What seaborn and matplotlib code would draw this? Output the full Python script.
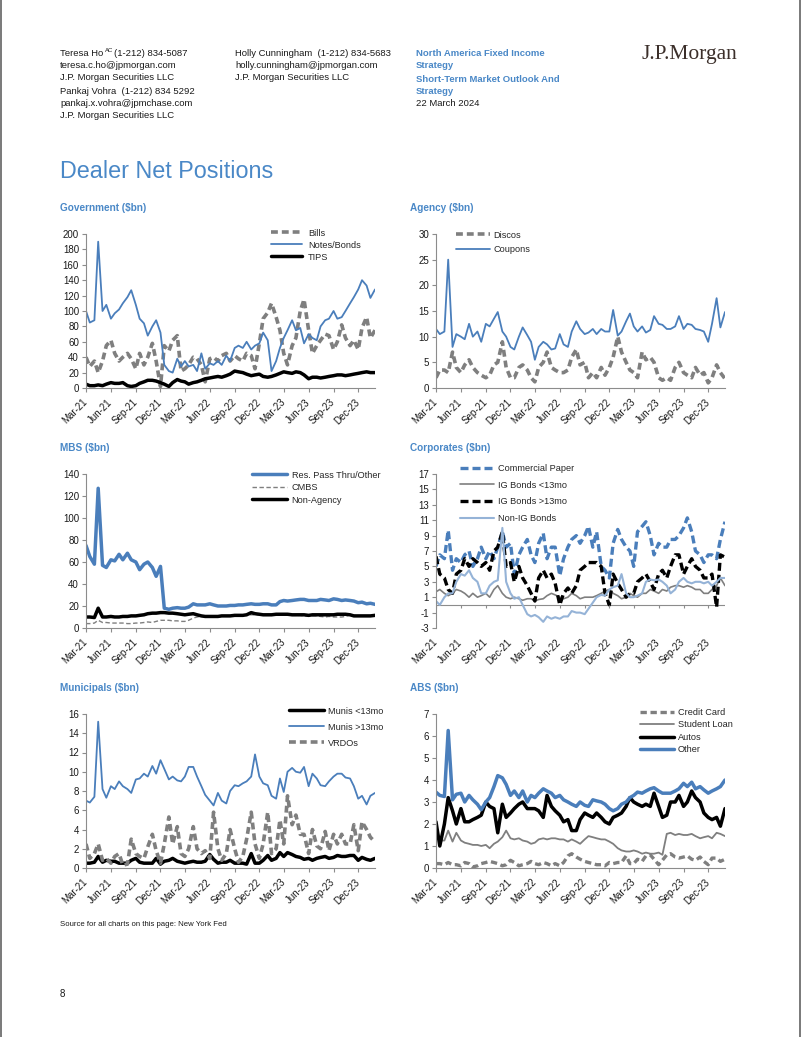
import numpy as np
import pandas as pd
import matplotlib
matplotlib.use("Agg")
import matplotlib.pyplot as plt
from matplotlib.lines import Line2D
import seaborn as sns

# ---------------- data (semi-monthly readings, Mar-21 .. Feb-24) ----------------
dates = [pd.Timestamp(y, m, d) for y in range(2021, 2025) for m in range(1, 13) for d in (1, 15)
         if pd.Timestamp(2021, 3, 1) <= pd.Timestamp(y, m, d) <= pd.Timestamp(2024, 2, 1)]

tick_labels = ["Mar-21", "Jun-21", "Sep-21", "Dec-21", "Mar-22", "Jun-22", "Sep-22",
               "Dec-22", "Mar-23", "Jun-23", "Sep-23", "Dec-23"]
tick_dates = [pd.Timestamp(2021, 3, 1) + pd.DateOffset(months=3 * k) for k in range(len(tick_labels))]

gov_bills = [40, 28, 35, 20, 35, 55, 62, 45, 35, 40, 45, 38, 25, 45, 30, 40, 58, 35, 2, 55,
             48, 62, 68, 22, 25, 30, 40, 38, 30, 8, 38, 40, 35, 42, 45, 35, 42, 38, 35, 45,
             42, 25, 58, 90, 98, 110, 92, 75, 45, 30, 55, 65, 100, 115, 75, 45, 55, 62, 70, 68,
             50, 60, 82, 65, 55, 62, 50, 78, 92, 65, 75]
gov_notes = [100, 85, 88, 190, 100, 108, 90, 97, 102, 110, 118, 127, 108, 90, 84, 68, 80, 88, 72, 30,
             22, 20, 38, 28, 35, 28, 30, 22, 45, 25, 32, 30, 35, 30, 42, 35, 52, 55, 52, 60,
             50, 55, 58, 72, 62, 22, 35, 52, 65, 75, 88, 75, 78, 58, 70, 65, 62, 80, 88, 90,
             100, 90, 92, 100, 110, 118, 128, 140, 133, 117, 128]
gov_tips = [5, 3, 3, 4, 3, 5, 7, 6, 6, 7, 3, 2, 3, 6, 8, 10, 10, 9, 7, 5,
            2, 7, 11, 9, 8, 5, 7, 8, 10, 12, 13, 14, 15, 14, 16, 18, 22, 21, 20, 18,
            16, 17, 18, 15, 14, 15, 17, 19, 21, 20, 19, 21, 20, 17, 12, 14, 14, 13, 14, 15,
            16, 17, 17, 16, 17, 18, 19, 20, 21, 20, 20]

ag_discos = [2, 3.5, 3.5, 3, 7, 4, 3, 4.5, 5.5, 4, 3, 2.5, 2, 2.5, 4.5, 5, 9, 4, 2, 2,
             4, 4.5, 3.5, 2, 1.2, 4, 5, 7, 4, 3.5, 3, 3, 3.5, 6, 7.5, 4.5, 5, 2, 3, 2,
             4, 2.5, 4, 6, 10, 7, 5, 3.5, 3, 2, 7, 5.5, 6, 5, 2, 1.5, 2, 1.5, 4, 5,
             3, 2.5, 2, 4, 2.5, 3, 1, 2, 4.5, 3, 1.8]
ag_coupons = [11.5, 10.5, 11, 25, 8, 10.5, 10, 9.5, 12.5, 10, 11, 9, 12.5, 12, 13.5, 14.8, 11, 10, 8, 7.5,
              10, 11.8, 10.3, 9, 5.5, 8, 9, 8.5, 7.5, 7.7, 10.5, 8.5, 8, 11, 13, 11.5, 10.5, 10.8, 11.5, 10.5,
              11.5, 11, 11, 15.2, 10.2, 11, 13, 14.5, 12, 11, 12, 10.8, 11.3, 14, 12.5, 12.3, 11.5, 11.5, 12, 14,
              11.5, 12.5, 12.3, 11.5, 11.3, 11, 9, 12.5, 17.5, 11.8, 14.8]

mbs_res = [75, 65, 58, 127, 57, 55, 62, 61, 67, 62, 68, 62, 60, 53, 58, 60, 55, 47, 56, 18,
           17, 18, 18.5, 18, 18, 19, 22, 21, 21, 21, 22, 21, 20, 20, 20, 20.5, 20.5, 21, 21, 21.5,
           22, 21.5, 21.5, 22, 22, 21, 21, 24, 25, 24.5, 25, 25.5, 26, 26, 25, 25, 25, 26, 25.5, 25,
           26.5, 26, 25, 25.5, 25, 24.5, 23, 23.5, 22, 22.5, 21.5]
mbs_cmbs = [4, 4, 4.5, 7, 5, 5, 4.5, 4.5, 4.5, 4.5, 4, 4, 4.5, 4.5, 5, 5.5, 5, 6, 7, 7,
            7, 6.5, 6.5, 6, 6, 7, 9, 10, 10.5, 10.5, 10.5, 11, 11, 11, 11, 11, 11.5, 11.5, 11.5, 12,
            12, 12, 12, 12, 12, 12, 12, 12, 12, 12, 11.5, 11.5, 11.5, 11, 11, 11, 11, 10.5, 10, 10.5,
            10, 10, 10, 10.5, 12, 11.5, 11, 11, 11, 11, 11]
mbs_nonag = [10, 10, 9.5, 18, 10, 10, 10.5, 10, 10, 10.5, 10.5, 11, 11, 11.5, 12, 13, 13.5, 13.5, 14, 14,
             13.5, 13.5, 13, 12.5, 12, 12.5, 13, 12, 11, 10.5, 10.5, 10.5, 10.5, 11, 11, 11, 11.5, 11.5, 11.5, 12,
             14, 13, 12.5, 12, 12, 12, 12.5, 12.5, 12.5, 12.5, 12, 12, 12, 12, 11.5, 12, 12, 12, 12, 12,
             12, 12.5, 12.5, 12.5, 12, 11, 11, 11, 11, 11, 11.5]

corp_cp = [5, 6.5, 6, 9.7, 4.5, 6, 5.5, 6.5, 7, 5, 6, 7.5, 6, 7, 6, 7.5, 9.5, 7.5, 8, 4,
           6.5, 7.5, 8.5, 6.5, 5.5, 8, 9.3, 6, 7.5, 7.5, 3.8, 6, 7.5, 8.5, 9, 8, 9, 10.2, 7.5, 9.5,
           5, 4.5, 3.5, 8, 9.8, 8.5, 7.5, 7, 5, 9.5, 10.2, 10.8, 9, 6.5, 8, 7.5, 7.5, 8.5, 8.5, 9,
           10, 11.3, 9.5, 7, 6.5, 5.5, 6.5, 6.5, 6, 8.5, 10.8]
corp_ig_short = [1.7, 2, 1.5, 1.2, 1.5, 2, 1.8, 1.5, 1, 1.5, 1, 1.2, 1.5, 1, 2, 2.5, 1.5, 1, 0.8, 1,
                 0.8, 0.6, 0.8, 0.8, 0.5, 0.7, 0.8, 1.2, 1.5, 1.3, 1, 0.8, 1, 1.5, 1.2, 0.8, 1, 1, 1, 1.2,
                 1.5, 1.8, 2, 1.5, 1.2, 0.8, 1, 1.5, 1.2, 1, 1.5, 1.5, 2, 1.8, 1.5, 2, 1.8, 2.3, 2.5, 2.5,
                 2.3, 2.5, 2.3, 2, 2, 1.5, 1.5, 2, 2.5, 3.5, 2.5]
corp_ig_long = [6.3, 4, 3.5, 2, 1.5, 4, 4.5, 6, 5, 6, 5.5, 5, 5.5, 4.5, 7, 7.5, 9.5, 5, 5.5, 3,
                5, 3.5, 2.5, 1.5, 0.5, 3.5, 4.5, 3.5, 4, 2.8, 0, 1.5, 2.2, 1.5, 2.5, 4.5, 5, 5.5, 5.5, 5.5,
                5, 1.5, 0, 4, 2.8, 2, 1, 1.5, 1.5, 3, 3.5, 4, 3, 2, 4, 4.5, 3.5, 5, 6.5, 6.5,
                4, 5, 6, 5, 4.5, 3.5, 3.5, 4, -0.3, 6.5, 6.2]
corp_nonig = [0.5, 0, 1, 1.5, 1.5, 3, 4, 3.8, 4.5, 3.5, 3, 1.5, 1.5, 2.5, 3, 3.2, 10, 3, 1.5, 0.8,
              1, 0, -1.2, -1.5, -1.3, -1.6, -2.2, -1.5, -1.8, -1.6, -1.8, -1.5, -1.5, -0.8, -1, -1, -1.2, -0.5, 0.3, 1,
              1.3, 1.2, 2, 2.3, 2.5, 4, 1.5, 1, 1, 1.2, 1.5, 3, 3.3, 3.2, 3.3, 3, 2.5, 1.5, 2, 3,
              3.5, 3, 2.8, 3, 3, 2.8, 3, 2.5, 3, 3.5, 3.5]

muni_short = [0.5, 0.5, 0.6, 1.2, 0.6, 0.8, 0.7, 0.7, 0.5, 0.5, 0.5, 0.8, 1, 0.6, 0.5, 0.5, 0.5, 1, 0.4, 0.7,
              0.8, 1, 0.7, 0.6, 0.5, 0.6, 0.7, 0.6, 0.6, 0.7, 1.4, 0.9, 0.5, 0.6, 0.6, 0.8, 0.5, 0.5, 0.5, 0.4,
              1.5, 0.5, 0.5, 0.8, 1.3, 0.8, 1, 1.6, 1.2, 1.6, 1.4, 1.2, 1.1, 0.9, 1, 0.8, 1, 1.1, 1.2, 1,
              1.1, 1.3, 1.2, 1.2, 1.3, 1.3, 0.8, 1.1, 0.9, 0.8, 1]
muni_long = [7, 6.8, 7.4, 15.2, 8.2, 7.3, 8.5, 8.2, 9, 8.5, 8.2, 7.8, 9.2, 9.3, 9.8, 9.5, 10.6, 9.8, 11.2, 10.3,
             9.2, 9.5, 9.1, 9, 9.5, 10.5, 10.5, 9.5, 8.5, 7.6, 7, 6.5, 7.8, 7, 6.7, 8, 8.6, 8.5, 8.8, 9,
             9.5, 11.8, 9.5, 8.8, 8.6, 7.5, 7.2, 9.3, 7.9, 10, 10.4, 10, 9.9, 10.5, 8.5, 9.8, 9.3, 8.6, 8.5, 9,
             9.5, 9.8, 9.8, 9.4, 9.3, 8.5, 7.2, 7.5, 6.6, 7.5, 7.8]
muni_vrdo = [2.5, 1, 1.5, 2.5, 0.8, 1, 0.5, 1.2, 1.5, 0.3, 0.4, 3, 1.5, 1.2, 1, 2.2, 3.5, 1.8, 0.5, 2.5,
             5.3, 2.5, 4.3, 1.5, 1.2, 2, 4.3, 2, 1.5, 1.8, 1, 5.8, 2, 0.8, 1.5, 4, 2, 0.6, 1.2, 3,
             5.8, 2.5, 1, 2.5, 5.8, 1.5, 2, 5, 2.5, 7.5, 4.5, 5.5, 3.5, 3.5, 1.5, 4, 2.3, 2, 3.8, 1.8,
             3.5, 2.5, 3.5, 2.5, 2.5, 4.5, 1.8, 4.8, 4, 3.2, 2.7]

abs_cc = [0.2, 0.2, 0.15, 0.25, 0.15, 0.15, 0.1, 0.25, 0.2, 0.05, 0.1, 0.2, 0.25, 0.3, 0.25, 0.2, 0.1, 0.15, 0.35, 0.25,
          0.1, 0.15, 0.2, 0.3, 0.2, 0.15, 0.25, 0.2, 0.1, 0.2, 0.1, 0.25, 0.55, 0.65, 0.5, 0.4, 0.3, 0.25, 0.2, 0.15,
          0.15, 0.1, 0.25, 0.2, 0.25, 0.25, 0.55, 0.2, 0.2, 0.4, 0.3, 0.55, 0.6, 0.4, 0.15, 0.35, 0.6, 0.65, 0.5, 0.45,
          0.5, 0.55, 0.4, 0.35, 0.5, 0.3, 0.15, 0.45, 0.45, 0.3, 0.4]
abs_sl = [1.9, 1.25, 1.25, 1.7, 1.2, 1.6, 1.25, 1.15, 1.1, 1.05, 1.05, 1, 1.05, 0.9, 1.1, 1.2, 1.4, 1.7, 1.35, 1.3,
          1.35, 1.25, 1.2, 1.1, 1.15, 1.3, 1.35, 1.3, 1.35, 1.35, 1.3, 1.3, 1.2, 1.3, 1.2, 1.1, 1.3, 1.45, 1.4, 1.35,
          1.3, 1.3, 1.2, 1.1, 0.9, 0.8, 0.75, 0.75, 0.8, 0.75, 0.65, 0.7, 0.65, 0.65, 0.7, 0.6, 1.55, 1.6, 1.5, 1.55,
          1.5, 1.5, 1.55, 1.45, 1.35, 1.4, 1.45, 1.35, 1.6, 1.55, 1.45]
abs_autos = [2.1, 1, 2, 3.2, 2.6, 2, 2.7, 2.1, 2.1, 2.2, 2.3, 2.4, 3, 2.8, 2.7, 1.6, 2.9, 2.3, 2.5, 2.7,
             2.9, 3, 2.7, 2.7, 2.7, 2.6, 2.3, 3.3, 2.8, 2.6, 2.4, 2.1, 2.2, 1.7, 1.7, 2.2, 2.5, 2.4, 2.3, 2.5,
             2.3, 2.1, 2, 2.3, 2.4, 2.5, 2.8, 3.2, 3, 2.9, 2.8, 2.9, 2.8, 3.4, 2.8, 2.3, 2.4, 3, 3, 3.3,
             2.8, 3, 3.5, 3.2, 3, 2.5, 2.3, 2.2, 2.3, 1.9, 2.7]
abs_other = [3.45, 3.3, 3.25, 6.25, 3.1, 3.35, 3.4, 3, 3.3, 3.1, 2.9, 2.65, 3, 3.2, 3.7, 4.2, 4.1, 3.8, 3.3, 3.5,
             3.2, 3.5, 3, 3.3, 3.2, 3.4, 3.6, 3.5, 3.4, 3.2, 3.3, 3.1, 3, 2.9, 2.8, 3, 2.85, 2.8, 3.1, 3.05,
             3, 2.9, 2.7, 2.6, 2.7, 2.9, 3, 3.2, 3.3, 3.45, 3.4, 3.5, 3.6, 3.65, 3.5, 3.4, 3.4, 3.4, 3.5, 3.6,
             3.85, 3.7, 3.9, 3.6, 3.7, 3.55, 3.4, 3.5, 3.6, 3.7, 4]

# ---------------- styling ----------------
BLUE = "#4A7EBB"
TITLE_BLUE = "#4A88C7"
LIGHT_BLUE = "#95B3D7"
GRAY = "#7F7F7F"
AX = "#8C8C8C"
TXT = "#1A1A1A"

sns.set_theme(style="white")
plt.rcParams["font.family"] = ["Liberation Sans", "DejaVu Sans"]

W, H = 802, 1037
fig = plt.figure(figsize=(W / 100, H / 100), dpi=100)
fig.patch.set_facecolor("white")


def px_axes(l, t, r, b):
    return fig.add_axes([l / W, 1 - b / H, (r - l) / W, (b - t) / H])


def ftext(x, y, s, **kw):
    kw.setdefault("va", "center")
    kw.setdefault("ha", "left")
    kw.setdefault("color", TXT)
    fig.text(x / W, 1 - y / H, s, **kw)


def draw_panel(ax, specs, ylim, yticks, leg_x, leg_top, hl, htp, lsp, zero_axis=False):
    for lab, vals, color, lw, ls in specs:
        sns.lineplot(x=dates, y=vals, ax=ax, color=color, linewidth=lw, linestyle=ls,
                     label=lab, legend=False)
    ax.set_xlim(dates[0], dates[-1])
    ax.set_ylim(*ylim)
    ax.set_yticks(yticks)
    ax.set_yticklabels([f"{v:g}" for v in yticks])
    ax.set_xticks(tick_dates)
    ax.set_xticklabels(tick_labels, rotation=45, ha="right", va="center", rotation_mode="anchor")
    ax.set_xlabel("")
    ax.set_ylabel("")
    ax.grid(False)
    ax.set_facecolor("none")
    for s in ["top", "right"]:
        ax.spines[s].set_visible(False)
    for s in ["left", "bottom"]:
        ax.spines[s].set_color(AX)
        ax.spines[s].set_linewidth(0.8)
    ax.tick_params(axis="both", which="major", bottom=True, left=True, length=3, width=0.8,
                   color=AX, labelsize=7, labelcolor=TXT, direction="out")
    ax.tick_params(axis="y", pad=2)
    ax.tick_params(axis="x", pad=6)
    if zero_axis:
        ax.spines["bottom"].set_visible(False)
        ax.tick_params(axis="x", length=0, pad=9)
        ax.axhline(0, color=AX, lw=0.8, zorder=1)
        tick_len = (ylim[1] - ylim[0]) * 3 / 154
        ax.vlines(tick_dates, -tick_len, 0, color=AX, lw=0.8)
    ax.legend(loc="upper left", bbox_to_anchor=(leg_x / W, 1 - leg_top / H),
              bbox_transform=fig.transFigure, frameon=False, fontsize=6.6,
              handlelength=hl, handletextpad=htp, labelspacing=lsp,
              borderpad=0, borderaxespad=0)


DASH_THICK = (0, (1.9, 1.1))
DASH_MED = (0, (2.4, 1.2))
DASH_THIN = (0, (3.2, 1.8))

# Government
ax1 = px_axes(86, 234, 375, 388)
draw_panel(ax1, [("Bills", gov_bills, GRAY, 2.6, DASH_THICK),
                 ("Notes/Bonds", gov_notes, BLUE, 1.3, "-"),
                 ("TIPS", gov_tips, "black", 2.5, "-")],
           (0, 200), list(range(0, 201, 20)), 270.7, 228.5, 3.4, 0.65, 0.33)

# Agency
ax2 = px_axes(436, 234, 725, 388)
draw_panel(ax2, [("Discos", ag_discos, GRAY, 2.6, DASH_THICK),
                 ("Coupons", ag_coupons, BLUE, 1.3, "-")],
           (0, 30), list(range(0, 31, 5)), 456, 230.5, 3.7, 0.4, 0.62)

# MBS
ax3 = px_axes(86, 474, 375, 628)
draw_panel(ax3, [("Res. Pass Thru/Other", mbs_res, BLUE, 2.5, "-"),
                 ("CMBS", mbs_cmbs, GRAY, 1.0, DASH_THIN),
                 ("Non-Agency", mbs_nonag, "black", 2.5, "-")],
           (0, 140), list(range(0, 141, 20)), 252.3, 470.5, 3.8, 0.5, 0.39)

# Corporates
ax4 = px_axes(436, 474, 725, 628)
draw_panel(ax4, [("Commercial Paper", corp_cp, BLUE, 2.4, DASH_MED),
                 ("IG Bonds <13mo", corp_ig_short, GRAY, 1.2, "-"),
                 ("IG Bonds >13mo", corp_ig_long, "black", 2.4, DASH_MED),
                 ("Non-IG Bonds", corp_nonig, LIGHT_BLUE, 1.5, "-")],
           (-3, 17), list(range(-3, 18, 2)), 460, 463.8, 3.7, 0.45, 0.85, zero_axis=True)

# Municipals
ax5 = px_axes(86, 714, 375, 868)
draw_panel(ax5, [("Munis <13mo", muni_short, "black", 2.5, "-"),
                 ("Munis >13mo", muni_long, BLUE, 1.3, "-"),
                 ("VRDOs", muni_vrdo, GRAY, 2.6, DASH_THICK)],
           (0, 16), list(range(0, 17, 2)), 289.3, 706.5, 3.8, 0.4, 0.77)

# ABS
ax6 = px_axes(436, 714, 725, 868)
draw_panel(ax6, [("Credit Card", abs_cc, GRAY, 2.4, DASH_THICK),
                 ("Student Loan", abs_sl, GRAY, 1.3, "-"),
                 ("Autos", abs_autos, "black", 2.5, "-"),
                 ("Other", abs_other, BLUE, 2.5, "-")],
           (0, 7), list(range(0, 8, 1)), 640, 708.1, 3.7, 0.45, 0.37)

# ---------------- page text ----------------
HS = 6.8
ftext(60, 53, "Teresa Ho", fontsize=HS)
ftext(104.5, 50, "AC", fontsize=4.3)
ftext(114.5, 53, "(1-212) 834-5087", fontsize=HS)
ftext(60, 65.5, "teresa.c.ho@jpmorgan.com", fontsize=HS)
ftext(60, 77.5, "J.P. Morgan Securities LLC", fontsize=HS)
ftext(60, 91, "Pankaj Vohra  (1-212) 834 5292", fontsize=HS)
ftext(60, 103, "pankaj.x.vohra@jpmchase.com", fontsize=HS)
ftext(60, 115, "J.P. Morgan Securities LLC", fontsize=HS)

ftext(235, 53, "Holly Cunningham  (1-212) 834-5683", fontsize=HS)
ftext(235, 65.5, "holly.cunningham@jpmorgan.com", fontsize=HS)
ftext(235, 77.5, "J.P. Morgan Securities LLC", fontsize=HS)

ftext(416, 53, "North America Fixed Income", fontsize=HS, color=TITLE_BLUE, fontweight="bold")
ftext(416, 65.5, "Strategy", fontsize=HS, color=TITLE_BLUE, fontweight="bold")
ftext(416, 79, "Short-Term Market Outlook And", fontsize=HS, color=TITLE_BLUE, fontweight="bold")
ftext(416, 91, "Strategy", fontsize=HS, color=TITLE_BLUE, fontweight="bold")
ftext(416, 103, "22 March 2024", fontsize=HS)

fig.text(642 / W, 1 - 54 / H, "J.P.Morgan", fontsize=15.5, color="#3B2F2A",
         family=["Liberation Serif", "DejaVu Serif"], ha="left", va="center")

ftext(60, 172, "Dealer Net Positions", fontsize=16.8, color=TITLE_BLUE)

PT = 7.2
ftext(60, 208, "Government ($bn)", fontsize=PT, color=TITLE_BLUE, fontweight="bold")
ftext(410, 208, "Agency ($bn)", fontsize=PT, color=TITLE_BLUE, fontweight="bold")
ftext(60, 448, "MBS ($bn)", fontsize=PT, color=TITLE_BLUE, fontweight="bold")
ftext(410, 448, "Corporates ($bn)", fontsize=PT, color=TITLE_BLUE, fontweight="bold")
ftext(60, 688, "Municipals ($bn)", fontsize=PT, color=TITLE_BLUE, fontweight="bold")
ftext(410, 688, "ABS ($bn)", fontsize=PT, color=TITLE_BLUE, fontweight="bold")

ftext(60, 925, "Source for all charts on this page: New York Fed", fontsize=5.6)
ftext(60, 994, "8", fontsize=7)

# page border lines
fig.add_artist(Line2D([1.2 / W, 1.2 / W], [0, 1], color="#6E6E6E", lw=1.3))
fig.add_artist(Line2D([800.3 / W, 800.3 / W], [0, 1], color="#6E6E6E", lw=1.3))

fig.savefig("out.png", dpi=100, facecolor="white")
